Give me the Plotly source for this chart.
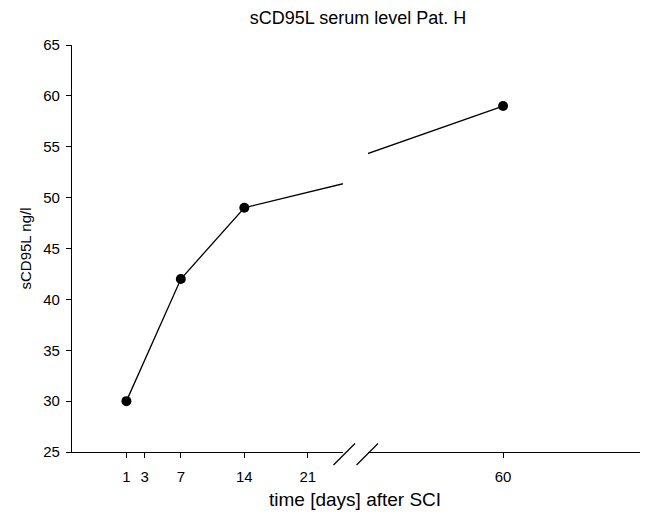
import plotly.graph_objects as go

days = [1, 7, 14, 60]
scd95l = [30, 42, 49, 59]
left_ticks = [1, 3, 7, 14, 21]
right_ticks = [60]
title = "sCD95L serum level Pat. H"
x_title = "time [days] after SCI"
y_title = "sCD95L ng/l"

W, H = 648, 516
ML, MR, MT, MB = 72, 8, 45, 64
pw = W - ML - MR
ph = H - MT - MB

left_end_px = 343
right_start_px = 368
dom_l = [0, (left_end_px - ML) / pw]
dom_r = [(right_start_px - ML) / pw, 1]

font = "Liberation Sans, Arial, sans-serif"

fig = go.Figure()
common = dict(mode="lines+markers", line=dict(color="black", width=1.3),
              marker=dict(color="black", size=10), showlegend=False,
              hoverinfo="x+y")
fig.add_trace(go.Scatter(x=days, y=scd95l, xaxis="x", yaxis="y", **common))
fig.add_trace(go.Scatter(x=days, y=scd95l, xaxis="x2", yaxis="y", **common))

axis_common = dict(showline=True, linecolor="black", linewidth=1.2,
                   ticks="outside", ticklen=5, tickcolor="black", tickwidth=1,
                   showgrid=False, zeroline=False,
                   tickfont=dict(family=font, size=15, color="black"))

fig.update_layout(
    width=W, height=H,
    margin=dict(l=ML, r=MR, t=MT, b=MB),
    paper_bgcolor="white", plot_bgcolor="white",
    title=dict(text=title, x=358 / W, xanchor="center", y=1 - 18 / H, yanchor="middle",
               font=dict(family=font, size=18, color="black")),
    xaxis=dict(domain=dom_l, range=[-5, 24.88], tickmode="array",
               tickvals=left_ticks, anchor="y", ticklabelstandoff=6, **axis_common),
    xaxis2=dict(domain=dom_r, range=[38.55, 81.75], tickmode="array",
                tickvals=right_ticks, anchor="y", ticklabelstandoff=6, **axis_common),
    yaxis=dict(domain=[0, 1], range=[25, 65], tickmode="array",
               tickvals=list(range(25, 66, 5)), ticklabelstandoff=3,
               title=dict(text=y_title, font=dict(family=font, size=15, color="black"), standoff=7),
               **axis_common),
)

# axis break slashes
def px_to_paper(xp, yp):
    return (xp - ML) / pw, (H - MB - yp) / ph

for x0p, x1p in [(333.5, 355), (356.5, 378)]:
    a = px_to_paper(x0p, 465)
    b = px_to_paper(x1p, 443.5)
    fig.add_shape(type="line", xref="paper", yref="paper",
                  x0=a[0], y0=a[1], x1=b[0], y1=b[1],
                  line=dict(color="black", width=1.2))

fig.add_annotation(text=x_title, xref="paper", yref="paper",
                   x=(355 - ML) / pw, y=(H - MB - 499) / ph,
                   xanchor="center", yanchor="middle", showarrow=False,
                   font=dict(family=font, size=19, color="black"))

fig.write_html("out.html", config={"displayModeBar": False},
               post_script="document.body.style.margin='0';")
